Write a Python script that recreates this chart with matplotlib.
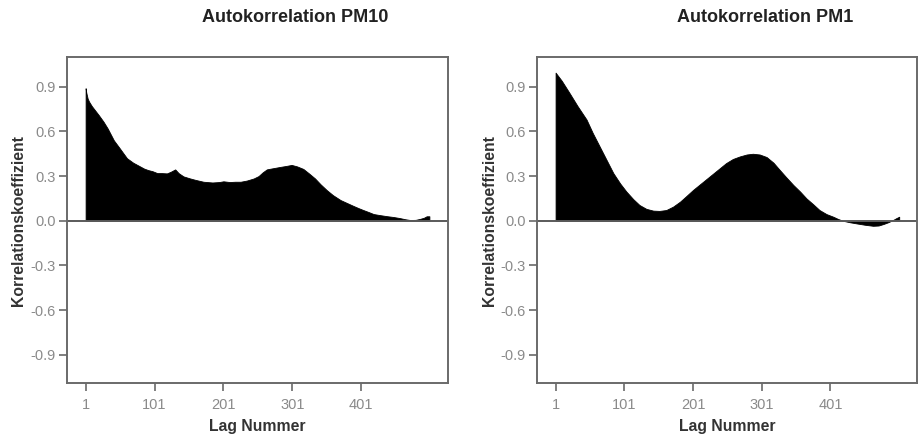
import numpy as np
import matplotlib.pyplot as plt

plt.rcParams['font.family'] = ['Liberation Sans', 'DejaVu Sans']

# Autocorrelation values (lag -> coefficient)
pm10_lags = [1, 2, 4, 6, 10, 15, 20, 27, 33, 42, 50, 61, 70, 78, 86, 92, 98,
             105, 112, 119, 125, 131, 136, 143, 152, 160, 172, 185, 195, 201,
             210, 218, 226, 235, 245, 252, 258, 264, 272, 284, 292, 300, 308,
             317, 326, 334, 342, 351, 360, 371, 380, 390, 397, 404, 412, 419,
             428, 438, 448, 457, 465, 472, 480, 486, 492, 496, 500]
pm10_vals = [0.89, 0.86, 0.82, 0.80, 0.77, 0.74, 0.71, 0.665, 0.62, 0.54,
             0.49, 0.42, 0.39, 0.37, 0.35, 0.34, 0.333, 0.32, 0.32, 0.318,
             0.33, 0.345, 0.32, 0.298, 0.285, 0.275, 0.262, 0.257, 0.26,
             0.265, 0.26, 0.262, 0.262, 0.27, 0.284, 0.30, 0.325, 0.345,
             0.352, 0.362, 0.368, 0.375, 0.365, 0.348, 0.315, 0.284, 0.245,
             0.206, 0.172, 0.139, 0.12, 0.099, 0.085, 0.072, 0.058, 0.045,
             0.038, 0.031, 0.025, 0.018, 0.01, 0.005, 0.006, 0.012, 0.02,
             0.03, 0.03]

pm1_lags = [1, 10, 21, 33, 46, 55, 65, 75, 85, 95, 104, 114, 123, 133, 143,
            152, 162, 172, 182, 191, 201, 213, 225, 237, 249, 259, 269, 279,
            288, 298, 308, 318, 327, 337, 347, 357, 366, 376, 385, 395, 405,
            412, 419, 429, 439, 451, 463, 471, 478, 485, 492, 497, 501]
pm1_vals = [0.995, 0.94, 0.86, 0.77, 0.68, 0.59, 0.50, 0.41, 0.32, 0.25,
            0.196, 0.145, 0.106, 0.08, 0.068, 0.066, 0.072, 0.095, 0.128,
            0.165, 0.207, 0.252, 0.297, 0.342, 0.387, 0.415, 0.432, 0.445,
            0.45, 0.445, 0.428, 0.39, 0.342, 0.29, 0.24, 0.195, 0.15, 0.11,
            0.072, 0.045, 0.027, 0.012, 0.0, -0.01, -0.018, -0.027, -0.034,
            -0.032, -0.022, -0.01, 0.005, 0.018, 0.027]

titles = ["Autokorrelation PM10", "Autokorrelation PM1"]
xticks = [1, 101, 201, 301, 401]
yticks = [-0.9, -0.6, -0.3, 0.0, 0.3, 0.6, 0.9]

fig = plt.figure(figsize=(9.18, 4.4), dpi=100)
boxes = [[0.073, 0.1295, 0.415, 0.741], [0.585, 0.1295, 0.414, 0.741]]
series = [(pm10_lags, pm10_vals), (pm1_lags, pm1_vals)]
title_x = [0.322, 0.834]

for box, (lags, vals), title, tx in zip(boxes, series, titles, title_x):
    ax = fig.add_axes(box)
    ax.fill_between(lags, 0, vals, color='black', linewidth=0.6,
                    edgecolor='black')
    ax.axhline(0, color='#5a5a5a', lw=1.4)
    ax.set_xlim(-26, 527)
    ax.set_ylim(-1.09, 1.1)
    ax.set_xticks(xticks)
    ax.set_xticklabels([str(t) for t in xticks])
    ax.set_yticks(yticks)
    ax.set_yticklabels([f"{t:.1f}" for t in yticks])
    for sp in ax.spines.values():
        sp.set_color('#6a6a6a')
        sp.set_linewidth(1.4)
    ax.tick_params(axis='both', colors='#6a6a6a', labelcolor='#8a8a8a',
                   labelsize=10.5, width=1.2, length=6)
    ax.tick_params(axis='x', pad=5)
    ax.tick_params(axis='y', pad=2)
    ax.set_xlabel("Lag Nummer", fontsize=11.3, fontweight='bold',
                  color='#333333', labelpad=5)
    ax.set_ylabel("Korrelationskoeffizient", fontsize=11.3, fontweight='bold',
                  color='#333333', labelpad=3)
    fig.text(tx, 0.96, title, ha='center', va='center', fontsize=13,
             fontweight='bold', color='#222222')

fig.savefig("out.png", dpi=100)
